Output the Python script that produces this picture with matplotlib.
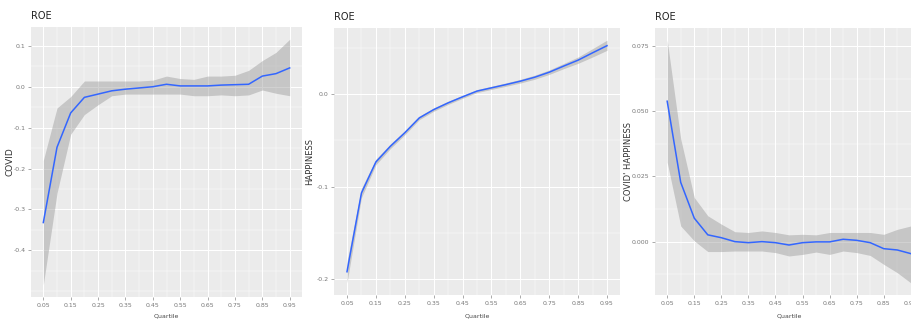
import matplotlib
matplotlib.use('Agg')
import matplotlib.pyplot as plt
import numpy as np
from matplotlib.patches import Rectangle
from matplotlib.ticker import MultipleLocator

# quantile grid shared by the three panels
quantiles = [0.05, 0.10, 0.15, 0.20, 0.25, 0.30, 0.35, 0.40, 0.45, 0.50,
             0.55, 0.60, 0.65, 0.70, 0.75, 0.80, 0.85, 0.90, 0.95]
x_ticks = [0.05, 0.15, 0.25, 0.35, 0.45, 0.55, 0.65, 0.75, 0.85, 0.95]

# panel 1: COVID
covid_fit = [-0.332, -0.148, -0.064, -0.026, -0.018, -0.010, -0.006, -0.003, 0.000, 0.006,
             0.002, 0.002, 0.002, 0.004, 0.005, 0.006, 0.026, 0.032, 0.046]
covid_upper = [-0.180, -0.052, -0.024, 0.014, 0.014, 0.014, 0.014, 0.014, 0.016, 0.026,
               0.020, 0.018, 0.026, 0.026, 0.028, 0.040, 0.064, 0.084, 0.116]
covid_lower = [-0.484, -0.260, -0.116, -0.068, -0.044, -0.022, -0.018, -0.018, -0.018, -0.018,
               -0.018, -0.022, -0.022, -0.020, -0.022, -0.020, -0.008, -0.016, -0.022]
covid_yticks = [-0.4, -0.3, -0.2, -0.1, 0.0, 0.1]

# panel 2: HAPPINESS
happy_fit = [-0.192, -0.107, -0.0735, -0.0566, -0.042, -0.026, -0.017, -0.0097, -0.0032, 0.003,
             0.0065, 0.010, 0.0137, 0.018, 0.0234, 0.030, 0.0364, 0.0443, 0.052]
happy_upper = [-0.181, -0.102, -0.0705, -0.0541, -0.0398, -0.0241, -0.0152, -0.0080, -0.0016, 0.0046,
               0.0082, 0.0118, 0.0157, 0.0202, 0.0258, 0.0328, 0.0398, 0.0488, 0.058]
happy_lower = [-0.204, -0.112, -0.0765, -0.0591, -0.0442, -0.0279, -0.0188, -0.0114, -0.0048, 0.0014,
               0.0048, 0.0082, 0.0117, 0.0158, 0.0210, 0.0272, 0.0330, 0.0398, 0.047]
happy_yticks = [-0.2, -0.1, 0.0]

# panel 3: COVID x HAPPINESS
inter_fit = [0.0538, 0.0227, 0.0090, 0.0026, 0.0015, 0.0000, -0.0004, 0.0000, -0.0004, -0.0013,
             -0.0004, -0.0001, -0.0001, 0.0009, 0.0005, -0.0004, -0.0027, -0.0032, -0.0046]
inter_upper = [0.0772, 0.0394, 0.0169, 0.0099, 0.0067, 0.0038, 0.0035, 0.0041, 0.0035, 0.0026,
               0.0028, 0.0026, 0.0035, 0.0035, 0.0035, 0.0035, 0.0028, 0.0047, 0.0060]
inter_lower = [0.0304, 0.0060, 0.0003, -0.0038, -0.0038, -0.0036, -0.0036, -0.0036, -0.0042, -0.0055,
               -0.0049, -0.0040, -0.0049, -0.0036, -0.0042, -0.0053, -0.0087, -0.0119, -0.0158]
inter_yticks = [0.000, 0.025, 0.050, 0.075]

W, H = 912, 320
fig = plt.figure(figsize=(W / 100, H / 100), dpi=100)
fig.patch.set_facecolor('white')


def panel(box, fit, upper, lower, yticks, fmt, ylabel, ylab_px, ylab_size, z):
    l, r, t, b = box
    ax = fig.add_axes([l / W, 1 - b / H, (r - l) / W, (b - t) / H])
    ax.set_zorder(z)
    ax.set_facecolor('#EBEBEB')
    for s in ax.spines.values():
        s.set_visible(False)
    ax.fill_between(quantiles, lower, upper, color='#999999', alpha=0.45, lw=0, zorder=2)
    ax.plot(quantiles, fit, color='#3366FF', lw=1.1, zorder=3)

    ax.set_xlim(0.005, 0.995)
    lo, hi = min(lower), max(upper)
    pad = (hi - lo) * 0.05
    ax.set_ylim(lo - pad, hi + pad)

    ax.set_xticks(x_ticks)
    ax.set_xticklabels(['%.2f' % v for v in x_ticks])
    ax.xaxis.set_minor_locator(MultipleLocator(0.05))
    ax.set_yticks(yticks)
    ax.set_yticklabels([fmt % v for v in yticks])
    step = yticks[1] - yticks[0]
    ax.yaxis.set_minor_locator(MultipleLocator(step / 2))

    ax.grid(which='major', color='white', lw=0.75)
    ax.grid(which='minor', color='white', lw=0.35)
    ax.set_axisbelow(True)
    ax.tick_params(which='major', length=2, width=0.5, color='#888888',
                   labelsize=4.5, labelcolor='#777777', pad=2)
    ax.tick_params(which='minor', length=0)

    ax.set_title('ROE', loc='left', fontsize=7, color='#222222', pad=6)
    ax.set_xlabel('Quartile', fontsize=4.5, color='#444444')
    ax.xaxis.set_label_coords(0.5, -(313 - b) / (b - t) * -1 - 0.0)
    ax.set_ylabel(ylabel, fontsize=ylab_size, color='#333333')
    ax.yaxis.set_label_coords((ylab_px - l) / (r - l), 0.5)
    return ax


ax1 = panel((31, 302, 27, 297), covid_fit, covid_upper, covid_lower,
            covid_yticks, '%.1f', 'COVID', 15, 6.5, 0)
ax2 = panel((334, 620, 28, 295), happy_fit, happy_upper, happy_lower,
            happy_yticks, '%.1f', 'HAPPINESS', 314, 6, 2)

# white background of the third image covers the second one's overflow
fig.add_artist(Rectangle((622 / W, 0), 1, 1, transform=fig.transFigure,
                         facecolor='white', edgecolor='none', zorder=3))

ax3 = panel((655, 923, 28, 295), inter_fit, inter_upper, inter_lower,
            inter_yticks, '%.3f', "COVID' HAPPINESS", 633, 6, 4)

for ax, b, t in [(ax1, 297, 27), (ax2, 295, 28), (ax3, 295, 28)]:
    ax.xaxis.set_label_coords(0.5, (b - 314) / (b - t))

fig.savefig('out.png', dpi=100)
